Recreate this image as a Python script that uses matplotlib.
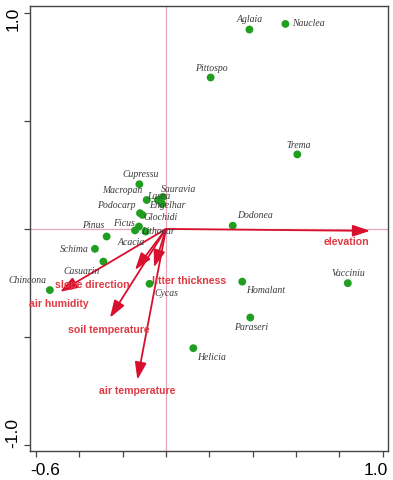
import matplotlib
matplotlib.use("Agg")
import matplotlib.pyplot as plt
import matplotlib.transforms as mtransforms
import numpy as np

# ---- data ----
species = ["Aglaia", "Nauclea", "Pittospo", "Trema", "Dodonea", "Homalant",
           "Vacciniu", "Paraseri", "Helicia", "Cycas", "Chincona", "Casuarin",
           "Schima", "Pinus", "Ficus", "Acacia", "Lithocar", "Podocarp",
           "Glochidi", "Cupressu", "Macropan", "Lasea", "Sauravia", "Engelhar"]
sp_x = [0.385, 0.551, 0.206, 0.606, 0.308, 0.352,
        0.839, 0.389, 0.126, -0.076, -0.536, -0.289,
        -0.328, -0.274, -0.125, -0.143, -0.094, -0.120,
        -0.109, -0.123, -0.089, -0.037, -0.014, -0.018]
sp_y = [0.923, 0.949, 0.701, 0.345, 0.015, -0.244,
        -0.251, -0.410, -0.552, -0.254, -0.283, -0.151,
        -0.092, -0.035, 0.011, -0.007, -0.012, 0.073,
        0.065, 0.207, 0.134, 0.134, 0.148, 0.116]

env_vars = ["elevation", "slope direction", "air humidity",
            "litter thickness", "soil temperature", "air temperature"]
env_x = [0.942, -0.143, -0.489, -0.055, -0.259, -0.132]
env_y = [-0.009, -0.190, -0.291, -0.178, -0.411, -0.698]

xticks = [-0.6, -0.4, -0.2, 0.0, 0.2, 0.4, 0.6, 0.8, 1.0]
xtick_labels = ["-0.6", "", "", "", "", "", "", "", "1.0"]
yticks = [-1.0, -0.5, 0.0, 0.5, 1.0]
ytick_labels = ["-1.0", "", "", "", "1.0"]

# ---- label offsets (pixels) ----
sp_off = [(0, 10), (22.7, 0), (0.6, 9), (1, 8.6), (22.3, 9.7), (23.7, -9),
          (0.3, 10), (0.7, -9.6), (18.7, -9.4), (16.5, -9.3), (-22.5, 9.6), (-22.3, -10),
          (-20.3, -0.3), (-13.7, 10.5), (-15.3, 3.4), (-4, -11.8), (12.3, 0), (-23.7, 7.6),
          (18.7, -2.3), (1, 10), (-24.7, 9.3), (1, 3.3), (16, 7.7), (4.7, -1.7)]
env_off = [(-24, -10.7), (-43, -15), (-1, -12), (35, -14), (-1, -12), (-0.5, -11)]

W, H, DPI = 393, 480, 100
fig = plt.figure(figsize=(W / DPI, H / DPI), dpi=DPI)
ax = fig.add_axes([30 / W, 1 - 451 / H, 358 / W, 445 / H])
ax.set_xlim(-0.6277, 1.0245)
ax.set_ylim(-1.028, 1.032)

pink = "#e8a6b6"
ax.axhline(0, color=pink, lw=0.9, zorder=1)
ax.axvline(0, color=pink, lw=0.9, zorder=1)

green = "#1f9e1f"
ax.scatter(sp_x, sp_y, s=32, color=green, edgecolors="none", zorder=3)
for name, x, y, off in zip(species, sp_x, sp_y, sp_off):
    ax.annotate(name, (x, y), xytext=off, textcoords="offset pixels",
                ha="center", va="center", fontsize=7, style="italic",
                family="Liberation Serif", color="#3a3a3a", zorder=5)

arrow_c = "#d8102e"
label_c = "#e03a44"
for name, x, y, off in zip(env_vars, env_x, env_y, env_off):
    ax.annotate("", xy=(x, y), xytext=(0, 0),
                arrowprops=dict(arrowstyle="-|>,head_length=0.95,head_width=0.32",
                                color=arrow_c, lw=1.3, shrinkA=0, shrinkB=0,
                                mutation_scale=11), zorder=4)
    ax.annotate(name, (x, y), xytext=off, textcoords="offset pixels",
                ha="center", va="center", fontsize=7.6, fontweight="bold",
                family="Liberation Sans", color=label_c, zorder=6)

for s in ax.spines.values():
    s.set_color("#444444")
    s.set_linewidth(1.0)

ax.set_xticks(xticks)
ax.set_xticklabels(xtick_labels)
ax.set_yticks(yticks)
ax.set_yticklabels(ytick_labels, rotation=90)
ax.tick_params(axis="both", direction="out", length=4, width=0.9,
               color="#444444", labelsize=12.5)
ax.tick_params(axis="x", pad=4.5)
ax.tick_params(axis="y", pad=3)
for lab in ax.get_xticklabels() + ax.get_yticklabels():
    lab.set_family("Liberation Sans")

xl = ax.get_xticklabels()
xl[0].set_ha("left")
xl[0].set_transform(xl[0].get_transform() + mtransforms.ScaledTranslation(-6 / DPI, 0, fig.dpi_scale_trans))
xl[-1].set_ha("right")
xl[-1].set_transform(xl[-1].get_transform() + mtransforms.ScaledTranslation(5 / DPI, 0, fig.dpi_scale_trans))
yl = ax.get_yticklabels()
yl[-1].set_va("top")
yl[-1].set_transform(yl[-1].get_transform() + mtransforms.ScaledTranslation(0, 6 / DPI, fig.dpi_scale_trans))
yl[0].set_va("bottom")
yl[0].set_transform(yl[0].get_transform() + mtransforms.ScaledTranslation(0, -3 / DPI, fig.dpi_scale_trans))

fig.savefig("out.png", dpi=DPI)
